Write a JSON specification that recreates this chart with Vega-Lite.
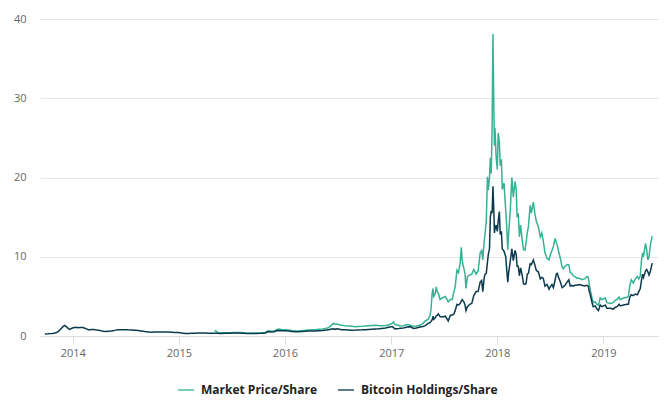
{
  "$schema": "https://vega.github.io/schema/vega-lite/v6.json",
  "width": 618,
  "height": 317,
  "autosize": {"type": "none"},
  "padding": {"left": 40, "top": 19, "right": 10, "bottom": 77},
  "background": "#ffffff",
  "config": {
    "view": {"stroke": null},
    "font": "Open Sans",
    "axis": {"labelFont": "Open Sans", "labelColor": "#666666", "labelFontSize": 11, "title": null},
    "legend": {"labelFont": "Open Sans"}
  },
  "data": {
    "values": [
      {"d": "2013-09-27", "m": null, "h": 0.25},
      {"d": "2013-10-07", "m": null, "h": 0.27},
      {"d": "2013-10-14", "m": null, "h": 0.3},
      {"d": "2013-10-24", "m": null, "h": 0.33},
      {"d": "2013-10-31", "m": null, "h": 0.38},
      {"d": "2013-11-06", "m": null, "h": 0.45},
      {"d": "2013-11-11", "m": null, "h": 0.55},
      {"d": "2013-11-16", "m": null, "h": 0.7},
      {"d": "2013-11-22", "m": null, "h": 0.95},
      {"d": "2013-11-28", "m": null, "h": 1.18},
      {"d": "2013-12-04", "m": null, "h": 1.33},
      {"d": "2013-12-08", "m": null, "h": 1.22},
      {"d": "2013-12-11", "m": null, "h": 1.15},
      {"d": "2013-12-15", "m": null, "h": 0.98},
      {"d": "2013-12-20", "m": null, "h": 0.84},
      {"d": "2013-12-27", "m": null, "h": 0.94},
      {"d": "2014-01-02", "m": null, "h": 1.03},
      {"d": "2014-01-08", "m": null, "h": 1.08},
      {"d": "2014-01-13", "m": null, "h": 1.1},
      {"d": "2014-01-19", "m": null, "h": 1.05},
      {"d": "2014-01-25", "m": null, "h": 1.07},
      {"d": "2014-02-05", "m": null, "h": 1.06},
      {"d": "2014-02-11", "m": null, "h": 0.98},
      {"d": "2014-02-17", "m": null, "h": 0.9},
      {"d": "2014-02-24", "m": null, "h": 0.8},
      {"d": "2014-03-01", "m": null, "h": 0.78},
      {"d": "2014-03-06", "m": null, "h": 0.82},
      {"d": "2014-03-12", "m": null, "h": 0.83},
      {"d": "2014-03-20", "m": null, "h": 0.78},
      {"d": "2014-03-29", "m": null, "h": 0.74},
      {"d": "2014-04-08", "m": null, "h": 0.65},
      {"d": "2014-04-15", "m": null, "h": 0.6},
      {"d": "2014-04-24", "m": null, "h": 0.58},
      {"d": "2014-05-03", "m": null, "h": 0.61},
      {"d": "2014-05-12", "m": null, "h": 0.62},
      {"d": "2014-05-20", "m": null, "h": 0.65},
      {"d": "2014-05-28", "m": null, "h": 0.74},
      {"d": "2014-06-06", "m": null, "h": 0.8},
      {"d": "2014-06-17", "m": null, "h": 0.79},
      {"d": "2014-06-29", "m": null, "h": 0.8},
      {"d": "2014-07-10", "m": null, "h": 0.78},
      {"d": "2014-07-22", "m": null, "h": 0.77},
      {"d": "2014-08-02", "m": null, "h": 0.73},
      {"d": "2014-08-14", "m": null, "h": 0.69},
      {"d": "2014-08-25", "m": null, "h": 0.63},
      {"d": "2014-09-06", "m": null, "h": 0.56},
      {"d": "2014-09-18", "m": null, "h": 0.52},
      {"d": "2014-09-29", "m": null, "h": 0.47},
      {"d": "2014-10-10", "m": null, "h": 0.49},
      {"d": "2014-10-22", "m": null, "h": 0.52},
      {"d": "2014-11-03", "m": null, "h": 0.5},
      {"d": "2014-11-14", "m": null, "h": 0.52},
      {"d": "2014-11-25", "m": null, "h": 0.5},
      {"d": "2014-12-07", "m": null, "h": 0.48},
      {"d": "2014-12-18", "m": null, "h": 0.44},
      {"d": "2014-12-30", "m": null, "h": 0.43},
      {"d": "2015-01-10", "m": null, "h": 0.37},
      {"d": "2015-01-22", "m": null, "h": 0.31},
      {"d": "2015-02-03", "m": null, "h": 0.33},
      {"d": "2015-02-14", "m": null, "h": 0.35},
      {"d": "2015-02-25", "m": null, "h": 0.36},
      {"d": "2015-03-09", "m": null, "h": 0.38},
      {"d": "2015-03-20", "m": null, "h": 0.37},
      {"d": "2015-04-01", "m": null, "h": 0.38},
      {"d": "2015-04-12", "m": null, "h": 0.36},
      {"d": "2015-04-24", "m": null, "h": 0.35},
      {"d": "2015-05-04", "m": 0.6, "h": 0.34},
      {"d": "2015-05-08", "m": 0.67, "h": 0.34},
      {"d": "2015-05-14", "m": 0.45, "h": 0.34},
      {"d": "2015-05-25", "m": 0.4, "h": 0.33},
      {"d": "2015-06-10", "m": 0.4, "h": 0.34},
      {"d": "2015-06-25", "m": 0.42, "h": 0.35},
      {"d": "2015-07-10", "m": 0.45, "h": 0.38},
      {"d": "2015-07-25", "m": 0.44, "h": 0.37},
      {"d": "2015-08-10", "m": 0.4, "h": 0.35},
      {"d": "2015-08-25", "m": 0.35, "h": 0.31},
      {"d": "2015-09-10", "m": 0.36, "h": 0.32},
      {"d": "2015-09-25", "m": 0.37, "h": 0.33},
      {"d": "2015-10-10", "m": 0.38, "h": 0.34},
      {"d": "2015-10-25", "m": 0.45, "h": 0.39},
      {"d": "2015-11-05", "m": 0.65, "h": 0.55},
      {"d": "2015-11-15", "m": 0.6, "h": 0.5},
      {"d": "2015-11-25", "m": 0.62, "h": 0.52},
      {"d": "2015-12-03", "m": 0.8, "h": 0.66},
      {"d": "2015-12-10", "m": 0.88, "h": 0.7},
      {"d": "2015-12-20", "m": 0.82, "h": 0.66},
      {"d": "2016-01-01", "m": 0.8, "h": 0.66},
      {"d": "2016-01-13", "m": 0.76, "h": 0.63},
      {"d": "2016-01-25", "m": 0.7, "h": 0.58},
      {"d": "2016-02-05", "m": 0.66, "h": 0.55},
      {"d": "2016-02-16", "m": 0.63, "h": 0.53},
      {"d": "2016-03-01", "m": 0.7, "h": 0.58},
      {"d": "2016-03-10", "m": 0.72, "h": 0.59},
      {"d": "2016-03-22", "m": 0.76, "h": 0.62},
      {"d": "2016-04-05", "m": 0.78, "h": 0.63},
      {"d": "2016-04-15", "m": 0.8, "h": 0.64},
      {"d": "2016-04-26", "m": 0.84, "h": 0.67},
      {"d": "2016-05-10", "m": 0.88, "h": 0.69},
      {"d": "2016-05-24", "m": 0.97, "h": 0.75},
      {"d": "2016-06-03", "m": 1.15, "h": 0.83},
      {"d": "2016-06-10", "m": 1.4, "h": 0.88},
      {"d": "2016-06-17", "m": 1.6, "h": 0.9},
      {"d": "2016-06-22", "m": 1.45, "h": 0.84},
      {"d": "2016-06-28", "m": 1.5, "h": 0.9},
      {"d": "2016-07-06", "m": 1.42, "h": 0.85},
      {"d": "2016-07-15", "m": 1.35, "h": 0.8},
      {"d": "2016-07-25", "m": 1.3, "h": 0.79},
      {"d": "2016-08-07", "m": 1.26, "h": 0.76},
      {"d": "2016-08-18", "m": 1.22, "h": 0.74},
      {"d": "2016-08-30", "m": 1.18, "h": 0.75},
      {"d": "2016-09-10", "m": 1.2, "h": 0.77},
      {"d": "2016-09-22", "m": 1.22, "h": 0.78},
      {"d": "2016-10-03", "m": 1.25, "h": 0.8},
      {"d": "2016-10-15", "m": 1.3, "h": 0.83},
      {"d": "2016-10-26", "m": 1.32, "h": 0.86},
      {"d": "2016-11-07", "m": 1.35, "h": 0.88},
      {"d": "2016-11-18", "m": 1.32, "h": 0.9},
      {"d": "2016-11-30", "m": 1.3, "h": 0.96},
      {"d": "2016-12-12", "m": 1.33, "h": 1.0},
      {"d": "2016-12-23", "m": 1.4, "h": 1.1},
      {"d": "2017-01-04", "m": 1.6, "h": 1.2},
      {"d": "2017-01-09", "m": 1.77, "h": 1.05},
      {"d": "2017-01-14", "m": 1.45, "h": 0.9},
      {"d": "2017-01-26", "m": 1.35, "h": 0.93},
      {"d": "2017-01-31", "m": 1.25, "h": 0.97},
      {"d": "2017-02-12", "m": 1.3, "h": 1.0},
      {"d": "2017-02-25", "m": 1.45, "h": 1.13},
      {"d": "2017-03-07", "m": 1.35, "h": 1.18},
      {"d": "2017-03-18", "m": 1.2, "h": 0.96},
      {"d": "2017-03-28", "m": 1.25, "h": 1.0},
      {"d": "2017-04-10", "m": 1.35, "h": 1.13},
      {"d": "2017-04-20", "m": 1.6, "h": 1.2},
      {"d": "2017-04-28", "m": 1.9, "h": 1.3},
      {"d": "2017-05-08", "m": 2.1, "h": 1.6},
      {"d": "2017-05-15", "m": 2.6, "h": 1.7},
      {"d": "2017-05-18", "m": 3.5, "h": 1.85},
      {"d": "2017-05-22", "m": 5.5, "h": 2.1},
      {"d": "2017-05-25", "m": 6.0, "h": 2.5},
      {"d": "2017-05-27", "m": 5.0, "h": 2.1},
      {"d": "2017-06-01", "m": 5.3, "h": 2.3},
      {"d": "2017-06-05", "m": 6.2, "h": 2.55},
      {"d": "2017-06-08", "m": 5.6, "h": 2.6},
      {"d": "2017-06-12", "m": 5.4, "h": 2.8},
      {"d": "2017-06-18", "m": 4.6, "h": 2.45},
      {"d": "2017-06-25", "m": 4.8, "h": 2.4},
      {"d": "2017-07-06", "m": 5.0, "h": 2.5},
      {"d": "2017-07-16", "m": 4.3, "h": 1.9},
      {"d": "2017-07-23", "m": 4.6, "h": 2.6},
      {"d": "2017-07-30", "m": 4.6, "h": 2.65},
      {"d": "2017-08-04", "m": 5.5, "h": 2.75},
      {"d": "2017-08-09", "m": 6.2, "h": 3.2},
      {"d": "2017-08-15", "m": 8.3, "h": 4.0},
      {"d": "2017-08-20", "m": 8.0, "h": 3.9},
      {"d": "2017-08-26", "m": 9.2, "h": 4.1},
      {"d": "2017-08-30", "m": 11.2, "h": 4.4},
      {"d": "2017-09-02", "m": 9.5, "h": 4.6},
      {"d": "2017-09-08", "m": 8.5, "h": 4.3},
      {"d": "2017-09-12", "m": 7.8, "h": 3.9},
      {"d": "2017-09-15", "m": 6.0, "h": 3.2},
      {"d": "2017-09-20", "m": 7.5, "h": 3.7},
      {"d": "2017-09-28", "m": 7.7, "h": 4.0},
      {"d": "2017-10-05", "m": 7.8, "h": 4.1},
      {"d": "2017-10-12", "m": 8.4, "h": 5.1},
      {"d": "2017-10-20", "m": 7.8, "h": 5.6},
      {"d": "2017-10-27", "m": 8.2, "h": 5.6},
      {"d": "2017-11-03", "m": 10.5, "h": 6.8},
      {"d": "2017-11-08", "m": 10.8, "h": 7.0},
      {"d": "2017-11-12", "m": 9.6, "h": 5.6},
      {"d": "2017-11-17", "m": 12.0, "h": 7.4},
      {"d": "2017-11-20", "m": 13.0, "h": 7.8},
      {"d": "2017-11-24", "m": 14.5, "h": 7.9},
      {"d": "2017-11-28", "m": 20.1, "h": 9.3},
      {"d": "2017-12-01", "m": 18.4, "h": 10.3},
      {"d": "2017-12-05", "m": 20.0, "h": 11.0},
      {"d": "2017-12-08", "m": 22.5, "h": 15.0},
      {"d": "2017-12-11", "m": 20.5, "h": 15.8},
      {"d": "2017-12-14", "m": 26.0, "h": 15.5},
      {"d": "2017-12-17", "m": 38.1, "h": 18.9},
      {"d": "2017-12-20", "m": 29.0, "h": 15.8},
      {"d": "2017-12-22", "m": 24.0, "h": 13.0},
      {"d": "2017-12-24", "m": 26.2, "h": 13.5},
      {"d": "2017-12-28", "m": 22.5, "h": 14.0},
      {"d": "2018-01-01", "m": 21.0, "h": 13.2},
      {"d": "2018-01-04", "m": 25.6, "h": 14.5},
      {"d": "2018-01-08", "m": 24.5, "h": 15.7},
      {"d": "2018-01-11", "m": 21.5, "h": 12.8},
      {"d": "2018-01-15", "m": 22.3, "h": 13.2},
      {"d": "2018-01-18", "m": 18.5, "h": 11.0},
      {"d": "2018-01-24", "m": 19.3, "h": 10.7},
      {"d": "2018-01-30", "m": 15.8, "h": 10.0},
      {"d": "2018-02-02", "m": 14.0, "h": 8.5},
      {"d": "2018-02-06", "m": 10.9, "h": 6.8},
      {"d": "2018-02-09", "m": 13.0, "h": 8.0},
      {"d": "2018-02-14", "m": 15.5, "h": 9.3},
      {"d": "2018-02-20", "m": 20.0, "h": 11.0},
      {"d": "2018-02-25", "m": 17.5, "h": 9.5},
      {"d": "2018-03-03", "m": 19.5, "h": 10.8},
      {"d": "2018-03-07", "m": 18.4, "h": 10.3},
      {"d": "2018-03-10", "m": 15.0, "h": 8.8},
      {"d": "2018-03-14", "m": 15.5, "h": 8.8},
      {"d": "2018-03-18", "m": 12.5, "h": 7.6},
      {"d": "2018-03-22", "m": 14.0, "h": 8.6},
      {"d": "2018-03-28", "m": 12.0, "h": 7.6},
      {"d": "2018-04-01", "m": 10.9, "h": 6.6},
      {"d": "2018-04-06", "m": 10.8, "h": 6.5},
      {"d": "2018-04-10", "m": 11.8, "h": 6.6},
      {"d": "2018-04-14", "m": 13.0, "h": 7.8},
      {"d": "2018-04-18", "m": 13.8, "h": 7.9},
      {"d": "2018-04-24", "m": 16.5, "h": 9.1},
      {"d": "2018-04-28", "m": 15.5, "h": 9.0},
      {"d": "2018-05-05", "m": 16.9, "h": 9.6},
      {"d": "2018-05-10", "m": 15.5, "h": 9.0},
      {"d": "2018-05-15", "m": 14.5, "h": 8.3},
      {"d": "2018-05-22", "m": 13.8, "h": 8.1},
      {"d": "2018-05-29", "m": 12.5, "h": 7.2},
      {"d": "2018-06-03", "m": 13.0, "h": 7.4},
      {"d": "2018-06-08", "m": 12.0, "h": 7.3},
      {"d": "2018-06-14", "m": 10.5, "h": 6.3},
      {"d": "2018-06-21", "m": 9.8, "h": 6.5},
      {"d": "2018-06-28", "m": 9.6, "h": 5.9},
      {"d": "2018-07-02", "m": 10.2, "h": 6.2},
      {"d": "2018-07-08", "m": 10.8, "h": 6.5},
      {"d": "2018-07-13", "m": 11.3, "h": 6.1},
      {"d": "2018-07-19", "m": 12.3, "h": 7.1},
      {"d": "2018-07-23", "m": 11.8, "h": 7.8},
      {"d": "2018-07-26", "m": 11.5, "h": 7.9},
      {"d": "2018-08-01", "m": 10.5, "h": 7.3},
      {"d": "2018-08-06", "m": 9.8, "h": 6.8},
      {"d": "2018-08-12", "m": 8.7, "h": 6.1},
      {"d": "2018-08-16", "m": 8.5, "h": 6.2},
      {"d": "2018-08-22", "m": 8.8, "h": 6.4},
      {"d": "2018-08-29", "m": 9.0, "h": 6.8},
      {"d": "2018-09-04", "m": 9.0, "h": 7.1},
      {"d": "2018-09-09", "m": 8.0, "h": 6.3},
      {"d": "2018-09-14", "m": 7.9, "h": 6.4},
      {"d": "2018-09-19", "m": 7.6, "h": 6.3},
      {"d": "2018-09-25", "m": 7.5, "h": 6.4},
      {"d": "2018-10-02", "m": 7.3, "h": 6.4},
      {"d": "2018-10-10", "m": 7.3, "h": 6.5},
      {"d": "2018-10-19", "m": 7.1, "h": 6.4},
      {"d": "2018-10-28", "m": 7.2, "h": 6.3},
      {"d": "2018-11-06", "m": 7.5, "h": 6.4},
      {"d": "2018-11-10", "m": 7.4, "h": 6.3},
      {"d": "2018-11-14", "m": 6.4, "h": 5.5},
      {"d": "2018-11-17", "m": 5.8, "h": 5.2},
      {"d": "2018-11-23", "m": 4.8, "h": 4.2},
      {"d": "2018-11-27", "m": 4.2, "h": 3.7},
      {"d": "2018-12-04", "m": 4.3, "h": 3.8},
      {"d": "2018-12-10", "m": 4.0, "h": 3.4},
      {"d": "2018-12-15", "m": 3.9, "h": 3.2},
      {"d": "2018-12-21", "m": 4.8, "h": 3.9},
      {"d": "2018-12-27", "m": 4.6, "h": 3.7},
      {"d": "2019-01-01", "m": 4.7, "h": 3.8},
      {"d": "2019-01-08", "m": 4.8, "h": 3.9},
      {"d": "2019-01-13", "m": 4.2, "h": 3.5},
      {"d": "2019-01-25", "m": 4.1, "h": 3.5},
      {"d": "2019-02-04", "m": 4.2, "h": 3.4},
      {"d": "2019-02-10", "m": 4.5, "h": 3.6},
      {"d": "2019-02-17", "m": 4.6, "h": 3.7},
      {"d": "2019-02-24", "m": 4.9, "h": 4.0},
      {"d": "2019-02-28", "m": 4.6, "h": 3.8},
      {"d": "2019-03-11", "m": 4.8, "h": 3.9},
      {"d": "2019-03-23", "m": 4.9, "h": 4.0},
      {"d": "2019-03-28", "m": 5.0, "h": 4.0},
      {"d": "2019-04-02", "m": 6.4, "h": 4.9},
      {"d": "2019-04-07", "m": 7.1, "h": 5.2},
      {"d": "2019-04-14", "m": 6.7, "h": 5.1},
      {"d": "2019-04-21", "m": 7.2, "h": 5.3},
      {"d": "2019-04-28", "m": 7.5, "h": 5.2},
      {"d": "2019-05-03", "m": 7.2, "h": 5.6},
      {"d": "2019-05-08", "m": 7.6, "h": 6.0},
      {"d": "2019-05-12", "m": 9.5, "h": 7.0},
      {"d": "2019-05-16", "m": 10.5, "h": 7.8},
      {"d": "2019-05-19", "m": 10.0, "h": 7.4},
      {"d": "2019-05-26", "m": 11.7, "h": 8.2},
      {"d": "2019-05-30", "m": 10.9, "h": 8.4},
      {"d": "2019-06-03", "m": 9.6, "h": 8.1},
      {"d": "2019-06-07", "m": 10.0, "h": 7.7},
      {"d": "2019-06-12", "m": 11.5, "h": 8.2},
      {"d": "2019-06-18", "m": 12.6, "h": 9.2}
    ]
  },
  "encoding": {
    "x": {
      "field": "d",
      "type": "temporal",
      "scale": {"domain": ["2013-09-10", "2019-07-08"]},
      "axis": {
        "format": "%Y",
        "tickCount": {"interval": "year", "step": 1},
        "grid": false,
        "domain": true,
        "domainColor": "#dddddd",
        "ticks": true,
        "tickColor": "#dddddd",
        "tickSize": 8,
        "labelPadding": 3,
        "labelFlush": false,
        "labelOverlap": false
      }
    }
  },
  "layer": [
    {
      "mark": {"type": "line", "strokeWidth": 1.5, "invalid": "filter", "interpolate": "linear"},
      "encoding": {
        "y": {
          "field": "m",
          "type": "quantitative",
          "scale": {"domain": [0, 40], "nice": false},
          "axis": {
            "values": [0, 10, 20, 30, 40],
            "grid": true,
            "gridColor": "#e6e6e6",
            "domain": false,
            "ticks": false,
            "labelPadding": 14
          }
        },
        "color": {
          "datum": "Market Price/Share",
          "type": "nominal",
          "scale": {"domain": ["Market Price/Share", "Bitcoin Holdings/Share"], "range": ["#34b394", "#0c3a4d"]},
          "legend": {
            "orient": "none",
            "legendX": 137,
            "legendY": 362,
            "direction": "horizontal",
            "title": null,
            "symbolType": "stroke",
            "symbolSize": 256,
            "symbolStrokeWidth": 2,
            "symbolOpacity": 0.65,
            "labelFontSize": 12,
            "labelFontWeight": "bold",
            "labelColor": "#222222",
            "labelOffset": 6,
            "columnPadding": 16
          }
        }
      }
    },
    {
      "mark": {"type": "line", "strokeWidth": 1.5, "invalid": "filter", "interpolate": "linear"},
      "encoding": {
        "y": {"field": "h", "type": "quantitative"},
        "color": {"datum": "Bitcoin Holdings/Share", "type": "nominal"}
      }
    }
  ]
}
